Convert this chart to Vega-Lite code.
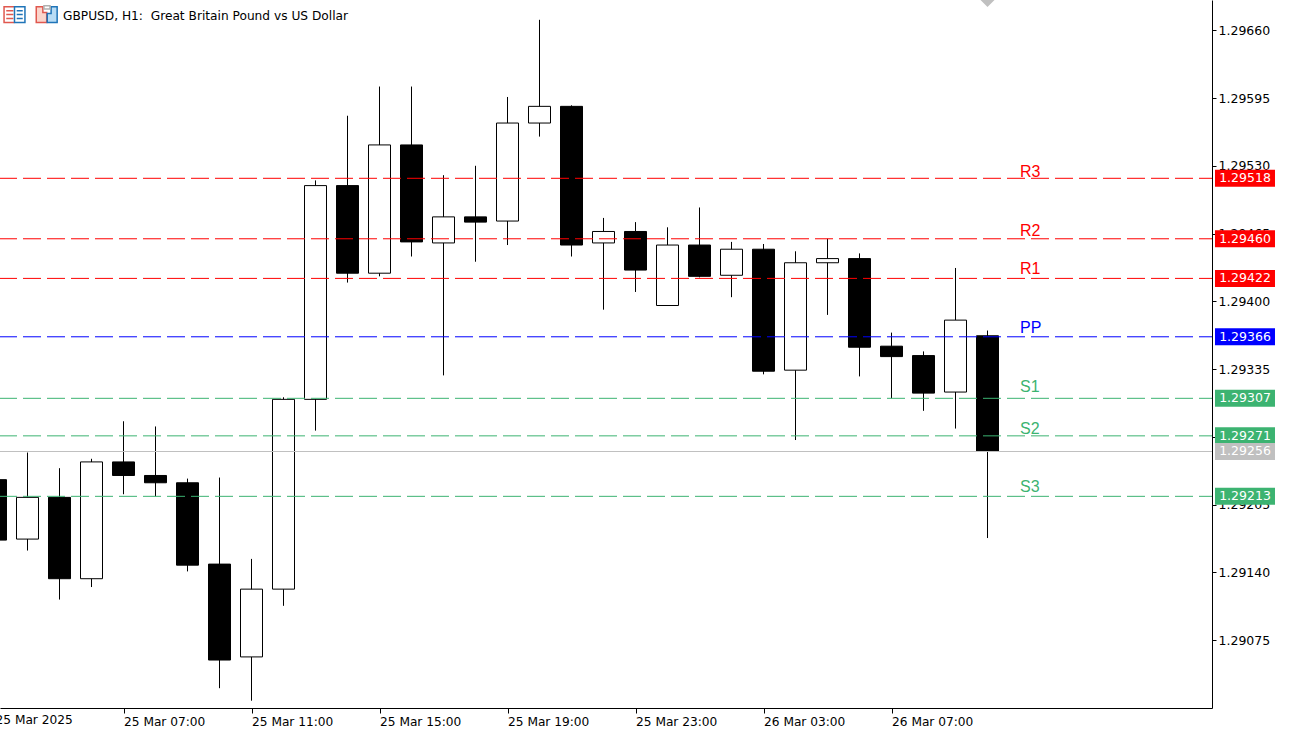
{
  "$schema": "https://vega.github.io/schema/vega-lite/v6.json",
  "description": "GBPUSD H1 candlesticks with pivot point levels.",
  "autosize": {"type": "none"},
  "padding": {"left": 0, "top": 0, "right": 79, "bottom": 21},
  "width": 1212,
  "height": 708,
  "background": "white",
  "title": {
    "text": "GBPUSD, H1:\u00a0 Great Britain Pound vs US Dollar",
    "anchor": "start",
    "frame": "group",
    "offset": -29,
    "dx": 63,
    "font": "DejaVu Sans",
    "fontSize": 12.2,
    "fontWeight": "normal",
    "color": "black"
  },
  "config": {"view": {"stroke": null}},
  "datasets": {
    "candles": [
      {"time": "2025-03-25T03:00:00", "open": 1.29229, "high": 1.29238, "low": 1.29161, "close": 1.29171},
      {"time": "2025-03-25T04:00:00", "open": 1.29172, "high": 1.29255, "low": 1.29161, "close": 1.29212},
      {"time": "2025-03-25T05:00:00", "open": 1.29212, "high": 1.2924, "low": 1.29114, "close": 1.29134},
      {"time": "2025-03-25T06:00:00", "open": 1.29134, "high": 1.29249, "low": 1.29126, "close": 1.29246},
      {"time": "2025-03-25T07:00:00", "open": 1.29246, "high": 1.29285, "low": 1.29215, "close": 1.29233},
      {"time": "2025-03-25T08:00:00", "open": 1.29233, "high": 1.2928, "low": 1.29213, "close": 1.29226},
      {"time": "2025-03-25T09:00:00", "open": 1.29226, "high": 1.2923, "low": 1.29141, "close": 1.29147},
      {"time": "2025-03-25T10:00:00", "open": 1.29148, "high": 1.29231, "low": 1.29029, "close": 1.29056},
      {"time": "2025-03-25T11:00:00", "open": 1.29059, "high": 1.29153, "low": 1.29017, "close": 1.29124},
      {"time": "2025-03-25T12:00:00", "open": 1.29124, "high": 1.29308, "low": 1.29108, "close": 1.29306},
      {"time": "2025-03-25T13:00:00", "open": 1.29306, "high": 1.29516, "low": 1.29276, "close": 1.29511},
      {"time": "2025-03-25T14:00:00", "open": 1.29511, "high": 1.29578, "low": 1.29418, "close": 1.29427},
      {"time": "2025-03-25T15:00:00", "open": 1.29427, "high": 1.29606, "low": 1.29424, "close": 1.2955},
      {"time": "2025-03-25T16:00:00", "open": 1.2955, "high": 1.29606, "low": 1.29443, "close": 1.29457},
      {"time": "2025-03-25T17:00:00", "open": 1.29456, "high": 1.29521, "low": 1.29329, "close": 1.29481},
      {"time": "2025-03-25T18:00:00", "open": 1.29481, "high": 1.2953, "low": 1.29438, "close": 1.29476},
      {"time": "2025-03-25T19:00:00", "open": 1.29477, "high": 1.29596, "low": 1.29454, "close": 1.29571},
      {"time": "2025-03-25T20:00:00", "open": 1.29571, "high": 1.2967, "low": 1.29558, "close": 1.29587},
      {"time": "2025-03-25T21:00:00", "open": 1.29587, "high": 1.29588, "low": 1.29443, "close": 1.29454},
      {"time": "2025-03-25T22:00:00", "open": 1.29456, "high": 1.2948, "low": 1.29392, "close": 1.29467},
      {"time": "2025-03-25T23:00:00", "open": 1.29467, "high": 1.29476, "low": 1.29409, "close": 1.2943},
      {"time": "2025-03-26T00:00:00", "open": 1.29396, "high": 1.29471, "low": 1.29396, "close": 1.29454},
      {"time": "2025-03-26T01:00:00", "open": 1.29454, "high": 1.2949, "low": 1.29423, "close": 1.29424},
      {"time": "2025-03-26T02:00:00", "open": 1.29425, "high": 1.29457, "low": 1.29404, "close": 1.2945},
      {"time": "2025-03-26T03:00:00", "open": 1.2945, "high": 1.29455, "low": 1.2933, "close": 1.29333},
      {"time": "2025-03-26T04:00:00", "open": 1.29334, "high": 1.29448, "low": 1.29267, "close": 1.29437},
      {"time": "2025-03-26T05:00:00", "open": 1.29437, "high": 1.2946, "low": 1.29387, "close": 1.29441},
      {"time": "2025-03-26T06:00:00", "open": 1.29441, "high": 1.29446, "low": 1.29328, "close": 1.29356},
      {"time": "2025-03-26T07:00:00", "open": 1.29357, "high": 1.2937, "low": 1.29307, "close": 1.29347},
      {"time": "2025-03-26T08:00:00", "open": 1.29348, "high": 1.29352, "low": 1.29295, "close": 1.29312},
      {"time": "2025-03-26T09:00:00", "open": 1.29313, "high": 1.29432, "low": 1.29278, "close": 1.29382},
      {"time": "2025-03-26T10:00:00", "open": 1.29367, "high": 1.29372, "low": 1.29173, "close": 1.29256}
    ],
    "levels": [
      {"level": "R3", "price": 1.29518, "labelPrice": 1.29519},
      {"level": "R2", "price": 1.2946, "labelPrice": 1.29463},
      {"level": "R1", "price": 1.29422, "labelPrice": 1.29426},
      {"level": "PP", "price": 1.29366, "labelPrice": 1.2937},
      {"level": "S1", "price": 1.29307, "labelPrice": 1.29313},
      {"level": "S2", "price": 1.29271, "labelPrice": 1.29273},
      {"level": "S3", "price": 1.29213, "labelPrice": 1.29217},
      {"level": "Close", "price": 1.29256, "labelPrice": 1.29256}
    ],
    "marker": [{"time": "2025-03-26T10:00:00", "price": 1.29689}],
    "firstLabel": [{"time": "2025-03-25T03:00:00", "price": 1.29004, "label": "25 Mar 2025"}],
    "icons": [
      {"part": "listRed", "time": "2025-03-25T03:35:37", "price": 1.29675},
      {"part": "listBlue", "time": "2025-03-25T03:35:37", "price": 1.29675},
      {"part": "tplRed", "time": "2025-03-25T04:36:00", "price": 1.29675},
      {"part": "tplBlue", "time": "2025-03-25T04:36:00", "price": 1.29675},
      {"part": "tplGrey", "time": "2025-03-25T04:36:00", "price": 1.29675}
    ]
  },
  "layer": [
    {
      "data": {"name": "candles"},
      "mark": {"type": "rule", "color": "black", "strokeWidth": 1, "clip": true},
      "encoding": {
        "x": {
          "field": "time",
          "type": "temporal",
          "title": null,
          "scale": {"domain": ["2025-03-25T03:08:26", "2025-03-26T17:00:56"], "nice": false, "padding": 0},
          "axis": {
            "values": [
              {"year": 2025, "month": "mar", "date": 25, "hours": 7},
              {"year": 2025, "month": "mar", "date": 25, "hours": 11},
              {"year": 2025, "month": "mar", "date": 25, "hours": 15},
              {"year": 2025, "month": "mar", "date": 25, "hours": 19},
              {"year": 2025, "month": "mar", "date": 25, "hours": 23},
              {"year": 2025, "month": "mar", "date": 26, "hours": 3},
              {"year": 2025, "month": "mar", "date": 26, "hours": 7}
            ],
            "format": "%d %b %H:%M",
            "labelAlign": "left",
            "labelBaseline": "top",
            "labelPadding": 2,
            "labelOverlap": false,
            "labelFlush": false,
            "labelBound": false,
            "labelFont": "DejaVu Sans",
            "labelFontSize": 12.2,
            "labelColor": "black",
            "tickColor": "black",
            "tickSize": 5,
            "domainColor": "black",
            "grid": false
          }
        },
        "y": {
          "field": "low",
          "type": "quantitative",
          "title": null,
          "scale": {"domain": [1.2901, 1.29689], "nice": false, "zero": false},
          "axis": {
            "orient": "right",
            "values": [1.2966, 1.29595, 1.2953, 1.29465, 1.294, 1.29335, 1.2927, 1.29205, 1.2914, 1.29075],
            "format": ".5f",
            "labelPadding": 2,
            "labelOverlap": false,
            "labelFlush": false,
            "labelBound": false,
            "labelFont": "DejaVu Sans",
            "labelFontSize": 12.5,
            "labelColor": "black",
            "tickColor": "black",
            "tickSize": 4,
            "domainColor": "black",
            "grid": false
          }
        },
        "y2": {"field": "high"}
      }
    },
    {
      "data": {"name": "candles"},
      "mark": {"type": "bar", "width": 22, "stroke": "black", "strokeWidth": 1, "clip": true},
      "encoding": {
        "x": {"field": "time", "type": "temporal"},
        "y": {"field": "open", "type": "quantitative"},
        "y2": {"field": "close"},
        "fill": {"condition": {"test": "datum.close > datum.open", "value": "white"}, "value": "black"}
      }
    },
    {
      "data": {"name": "levels"},
      "mark": {"type": "rule", "strokeWidth": 1, "strokeDashOffset": 5},
      "encoding": {
        "y": {"field": "price", "type": "quantitative"},
        "color": {
          "field": "level",
          "type": "nominal",
          "legend": null,
          "scale": {
            "domain": ["R3", "R2", "R1", "PP", "S1", "S2", "S3", "Close"],
            "range": ["#ff0000", "#ff0000", "#ff0000", "#0000ff", "#3cb371", "#3cb371", "#3cb371", "#c0c0c0"]
          }
        },
        "strokeDash": {
          "condition": {"test": "datum.level == 'Close'", "value": [1, 0]},
          "value": [18, 6]
        }
      }
    },
    {
      "data": {"name": "levels"},
      "transform": [{"filter": "datum.level != 'Close'"}],
      "mark": {"type": "text", "align": "left", "baseline": "alphabetic", "font": "Liberation Sans", "fontSize": 16},
      "encoding": {
        "x": {"datum": {"year": 2025, "month": "mar", "date": 26, "hours": 11, "minutes": 1}, "type": "temporal"},
        "y": {"field": "labelPrice", "type": "quantitative"},
        "text": {"field": "level", "type": "nominal"},
        "color": {"field": "level", "type": "nominal", "legend": null}
      }
    },
    {
      "data": {"name": "levels"},
      "mark": {"type": "rule", "strokeWidth": 17},
      "encoding": {
        "x": {"datum": {"year": 2025, "month": "mar", "date": 26, "hours": 17, "minutes": 6, "seconds": 33}, "type": "temporal"},
        "x2": {"datum": {"year": 2025, "month": "mar", "date": 26, "hours": 18, "minutes": 59, "seconds": 3}},
        "y": {"field": "price", "type": "quantitative"},
        "color": {"field": "level", "type": "nominal", "legend": null}
      }
    },
    {
      "data": {"name": "levels"},
      "mark": {"type": "text", "align": "center", "baseline": "middle", "color": "white", "font": "DejaVu Sans", "fontSize": 12.5},
      "encoding": {
        "x": {"datum": {"year": 2025, "month": "mar", "date": 26, "hours": 18, "minutes": 2, "seconds": 49}, "type": "temporal"},
        "y": {"field": "price", "type": "quantitative"},
        "text": {"field": "price", "type": "quantitative", "format": ".5f"}
      }
    },
    {
      "data": {"name": "firstLabel"},
      "mark": {"type": "text", "align": "left", "baseline": "top", "color": "black", "font": "DejaVu Sans", "fontSize": 12.2},
      "encoding": {
        "x": {"field": "time", "type": "temporal"},
        "y": {"field": "price", "type": "quantitative"},
        "text": {"field": "label", "type": "nominal"}
      }
    },
    {
      "data": {"name": "marker"},
      "mark": {"type": "point", "shape": "diamond", "filled": true, "size": 196, "color": "#c0c0c0", "opacity": 1},
      "encoding": {
        "x": {"field": "time", "type": "temporal"},
        "y": {"field": "price", "type": "quantitative"}
      }
    },
    {
      "data": {"name": "icons"},
      "mark": {"type": "point", "filled": true, "size": 484, "strokeWidth": 1.5, "opacity": 1},
      "encoding": {
        "x": {"field": "time", "type": "temporal"},
        "y": {"field": "price", "type": "quantitative"},
        "shape": {
          "field": "part",
          "type": "nominal",
          "legend": null,
          "scale": {
            "domain": ["listRed", "listBlue", "tplRed", "tplBlue", "tplGrey"],
            "range": [
              "M0,-0.72H-0.95V0.72H0M-0.75,-0.36H-0.1M-0.75,0H-0.1M-0.75,0.36H-0.1",
              "M0,-0.72H0.95V0.72H0ZM0.2,-0.36H0.75M0.2,0H0.75M0.2,0.36H0.75",
              "M-0.95,-0.72H-0.35V-0.2H0V0.72H-0.95Z",
              "M0.4,-0.72H0.95V0.72H0.05V-0.1H0.4Z",
              "M-0.25,-0.8H0.3V-0.5H-0.25Z"
            ]
          }
        },
        "fill": {
          "field": "part",
          "type": "nominal",
          "legend": null,
          "scale": {
            "domain": ["listRed", "listBlue", "tplRed", "tplBlue", "tplGrey"],
            "range": ["#ffffff", "#ffffff", "#fbd5cc", "#b8dcf5", "#ffffff"]
          }
        },
        "stroke": {
          "field": "part",
          "type": "nominal",
          "legend": null,
          "scale": {
            "domain": ["listRed", "listBlue", "tplRed", "tplBlue", "tplGrey"],
            "range": ["#e0584f", "#1f74b8", "#e0584f", "#1f74b8", "#b0b0b0"]
          }
        }
      }
    }
  ]
}
